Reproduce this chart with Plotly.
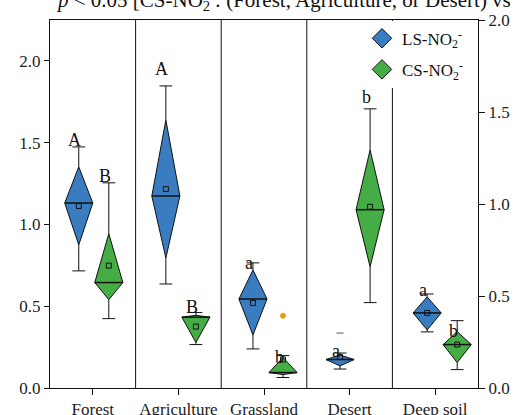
import plotly.graph_objects as go

categories = ["Forest", "Agriculture", "Grassland", "Desert", "Deep soil"]

# LS-NO2- summary statistics (left axis)
ls_max = [1.474, 1.847, 0.765, 0.214, 0.575]
ls_q3 = [1.352, 1.639, 0.722, 0.202, 0.557]
ls_med = [1.131, 1.174, 0.544, 0.174, 0.459]
ls_q1 = [0.875, 0.795, 0.324, 0.135, 0.355]
ls_min = [0.716, 0.636, 0.239, 0.116, 0.343]
ls_mean = [1.113, 1.217, 0.520, 0.190, 0.459]
ls_outliers = [[], [], [], [0.336], []]
ls_letters = ["A", "A", "a", "a", "a"]

# CS-NO2- summary statistics (right axis)
cs_max = [1.115, 0.410, 0.176, 1.517, 0.366]
cs_q3 = [0.839, 0.395, 0.166, 1.294, 0.307]
cs_med = [0.573, 0.385, 0.084, 0.969, 0.236]
cs_q1 = [0.480, 0.247, 0.073, 0.659, 0.138]
cs_min = [0.377, 0.236, 0.057, 0.464, 0.100]
cs_mean = [0.665, 0.334, 0.155, 0.985, 0.236]
cs_outliers = [[], [], [0.393], [], []]
cs_letters = ["B", "B", "b", "b", "b"]

y_ticks = [0.0, 0.5, 1.0, 1.5, 2.0]

BLUE = "#3A7CC0"
GREEN = "#46AD46"
FONT = "Liberation Serif"

# layout of the boxes within each category slot
SLOT = 1.0175          # spacing between neighbouring boxes of a series
LS_OFF, CS_OFF = -0.164, 0.187
HALF_W = 0.164         # half width of a diamond
CAP_W = 0.075          # half width of a whisker cap

# vertical pixel offsets of the significance letters above the whisker tops
ls_letter_dy = [1, 11, -6, -4, -2]
cs_letter_dy = [1, 0, -7, 6, -16]

fig = go.Figure()
annotations = []


def add_series(mx, q3, med, q1, mn, mean, outliers, letters, letter_dy,
               offset, color, yaxis, out_color, out_symbol):
    for i in range(len(categories)):
        p = 1 + SLOT * i + offset
        # whiskers and caps
        fig.add_trace(go.Scatter(
            x=[p, p, None, p, p, None, p - CAP_W, p + CAP_W, None, p - CAP_W, p + CAP_W],
            y=[q3[i], mx[i], None, q1[i], mn[i], None, mx[i], mx[i], None, mn[i], mn[i]],
            mode="lines", line=dict(color="#111", width=1),
            yaxis=yaxis, showlegend=False, hoverinfo="skip"))
        # diamond: Q3 on top, widest at the median, Q1 at the bottom
        fig.add_trace(go.Scatter(
            x=[p, p + HALF_W, p, p - HALF_W, p],
            y=[q3[i], med[i], q1[i], med[i], q3[i]],
            mode="lines", fill="toself", fillcolor=color,
            line=dict(color="#111", width=1),
            yaxis=yaxis, showlegend=False, hoverinfo="skip"))
        # median line
        fig.add_trace(go.Scatter(
            x=[p - HALF_W, p + HALF_W], y=[med[i], med[i]],
            mode="lines", line=dict(color="#111", width=1.5),
            yaxis=yaxis, showlegend=False, hoverinfo="skip"))
        # mean
        fig.add_trace(go.Scatter(
            x=[p], y=[mean[i]], mode="markers",
            marker=dict(symbol="square-open", size=5, color="#111",
                        line=dict(width=1, color="#111")),
            yaxis=yaxis, showlegend=False, hoverinfo="skip"))
        # outliers
        if outliers[i]:
            fig.add_trace(go.Scatter(
                x=[p] * len(outliers[i]), y=outliers[i], mode="markers",
                marker=dict(symbol=out_symbol, size=5, color=out_color,
                            line=dict(width=1, color=out_color)),
                yaxis=yaxis, showlegend=False, hoverinfo="skip"))
        annotations.append(dict(
            x=p, y=mx[i], xref="x", yref="y" if yaxis == "y" else "y2",
            text=letters[i], showarrow=False, xanchor="center", yanchor="middle",
            xshift=-4, yshift=letter_dy[i] + 6,
            font=dict(family=FONT, size=18, color="#111")))


add_series(ls_max, ls_q3, ls_med, ls_q1, ls_min, ls_mean, ls_outliers,
           ls_letters, ls_letter_dy, LS_OFF, BLUE, "y", "#555", "line-ew")
add_series(cs_max, cs_q3, cs_med, cs_q1, cs_min, cs_mean, cs_outliers,
           cs_letters, cs_letter_dy, CS_OFF, GREEN, "y2", "#E0A010", "circle")

# legend entries
for name, color, group in [("LS-NO<sub>2</sub><sup>-</sup>", BLUE, "ls"),
                           ("CS-NO<sub>2</sub><sup>-</sup>", GREEN, "cs")]:
    fig.add_trace(go.Scatter(
        x=[None], y=[None], mode="markers", name=name, legendgroup=group,
        marker=dict(symbol="diamond", size=15, color=color,
                    line=dict(color="#111", width=1))))

# category separators
shapes = [dict(type="line", xref="x", yref="paper", x0=k + 1.5, x1=k + 1.5,
               y0=0, y1=1, line=dict(color="#111", width=1), layer="below")
          for k in range(len(categories) - 1)]

annotations.append(dict(
    x=0.0093, y=1.057, xref="paper", yref="paper", xanchor="left", yanchor="middle",
    text="<i>p</i> &lt; 0.05 [CS-NO<sub>2</sub><sup>-</sup>: (Forest, Agriculture, or Desert) vs",
    showarrow=False, font=dict(family=FONT, size=21, color="#111")))

axis_common = dict(showline=True, linecolor="#111", linewidth=1, showgrid=False,
                   zeroline=False, ticks="outside", tickcolor="#111", automargin=False,
                   tickfont=dict(family=FONT, size=17, color="#222"))

fig.update_layout(
    width=531, height=415,
    margin=dict(l=50, r=53, t=20, b=27, autoexpand=False),
    paper_bgcolor="white", plot_bgcolor="white",
    font=dict(family=FONT, color="#111"),
    xaxis=dict(range=[0.5, 5.5], tickvals=[1, 2, 3, 4, 5], ticktext=categories,
               ticklen=6, mirror=True, **axis_common),
    yaxis=dict(range=[0, 2.25], tickvals=y_ticks, tickformat=".1f", ticklen=5,
               **axis_common),
    yaxis2=dict(range=[0, 2.0], tickvals=y_ticks, tickformat=".1f", ticklen=6,
                overlaying="y", side="right", **axis_common),
    legend=dict(x=0.729, y=0.998, xanchor="left", yanchor="top",
                bgcolor="white", borderwidth=0, traceorder="grouped",
                font=dict(family=FONT, size=17, color="#111"),
                itemwidth=30, tracegroupgap=6),
    shapes=shapes,
    annotations=annotations,
    showlegend=True,
)

fig.write_html("out.html")
